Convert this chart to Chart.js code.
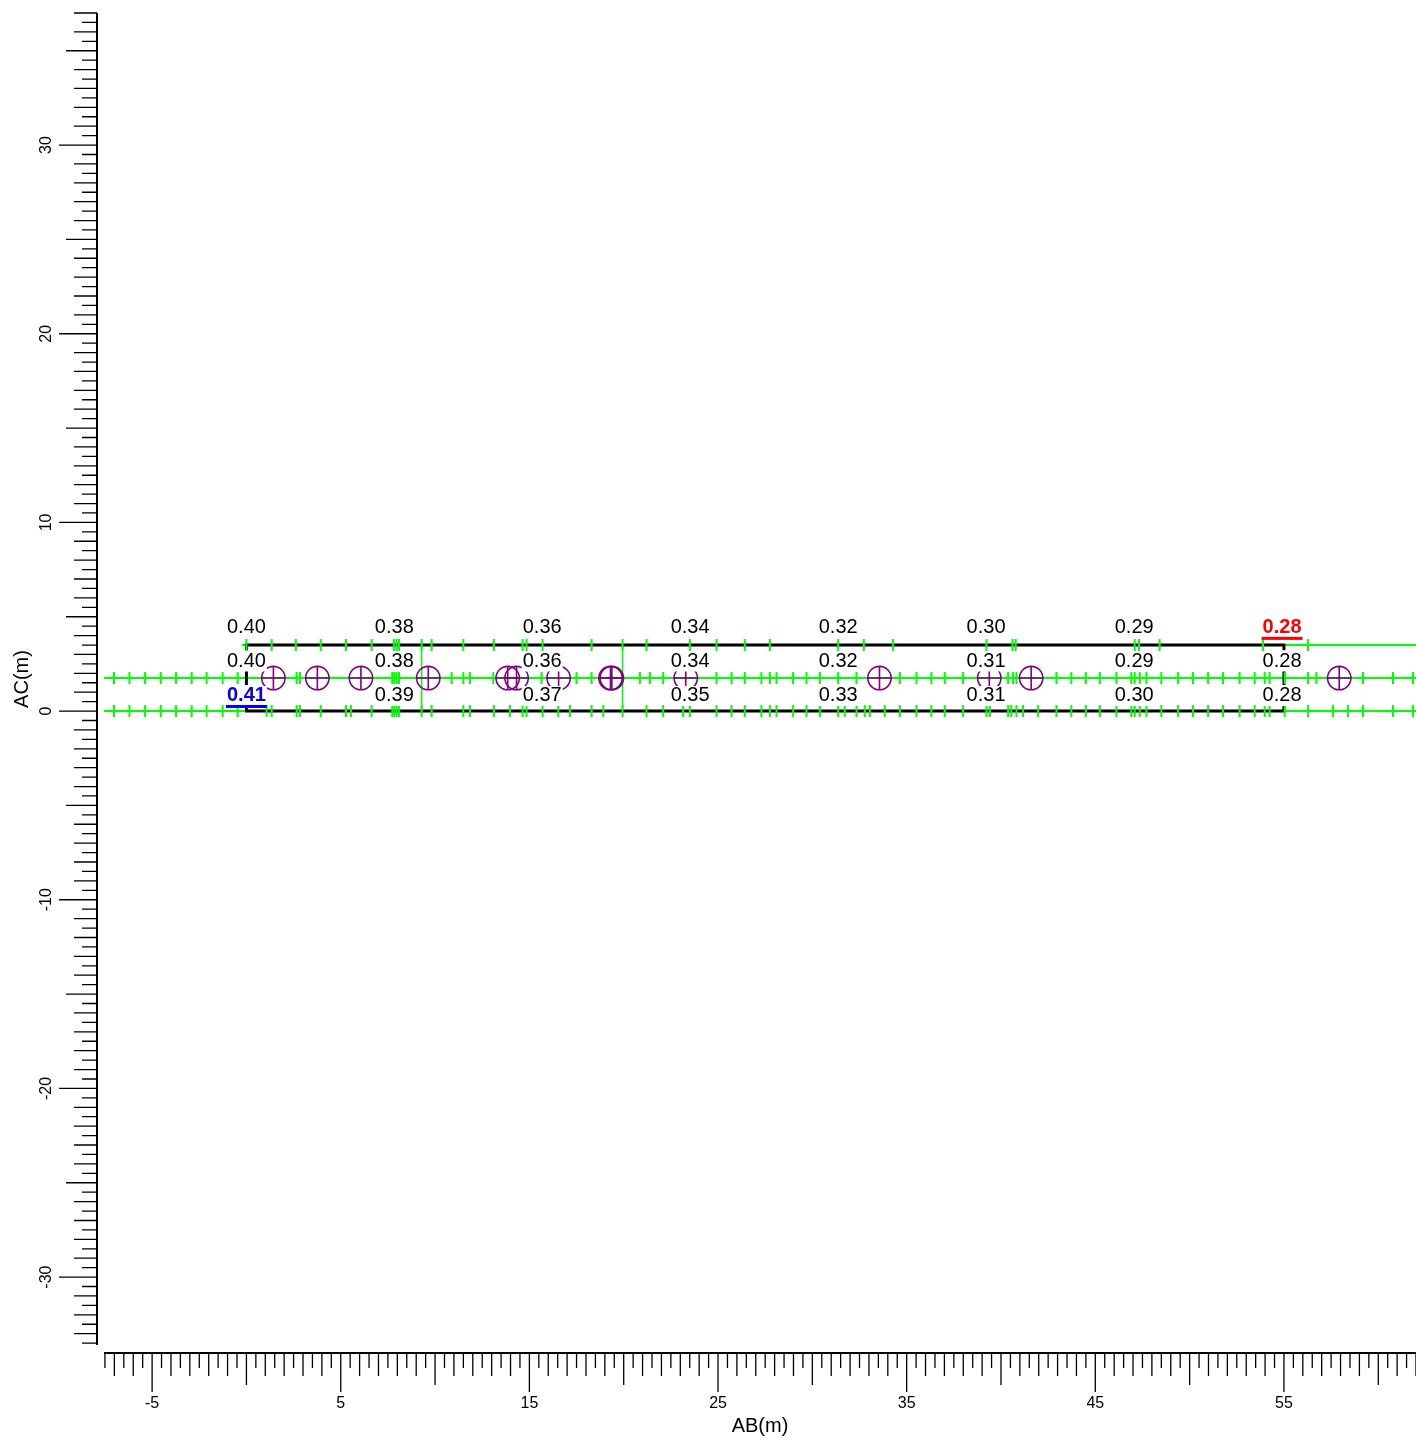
<!DOCTYPE html>
<html>
<head>
<meta charset="utf-8">
<script src="https://cdn.jsdelivr.net/npm/chart.js@4"></script>
<style>
  html, body { margin: 0; padding: 0; background: #fff; overflow: hidden; }
  canvas { display: block; }
</style>
</head>
<body>
<canvas id="plot" width="1416" height="1443" style="width:1416px;height:1443px"></canvas>
<script>
// rows (AC, m)
const rowY = [3.5, 1.75, 0];
const greenStart = [-0.25, -7.55, -7.55];
const greenEnd = [62, 62, 62];
const blackStart = 0;
const blackEnd = 55;
const verticalX = [9.29, 19.94];

// station ticks along each row (AB, m)
const topTicksX = [0, 1.34, 2.62, 3.94, 5.28, 6.64, 7.82, 7.96, 8.09, 9.29, 9.82, 11.5, 13.12, 14.64, 14.85,
  15.7, 18.3, 19.94, 21.21, 23.51, 24.92, 26.42, 27.75, 31.37, 32.73, 34.28, 39.23, 40.61, 40.78,
  47.09, 47.32, 48.41, 53.89, 56.28];
const midTicksX = [-7.02, -6.2, -5.37, -4.54, -3.73, -2.9, -2.11, -1.26, -0.46, 2.66, 2.84, 7.73, 7.84, 7.96,
  8.09, 10.88, 11.5, 11.85, 13.09, 15.65, 17.5, 18.3, 20.86, 21.39, 22.09, 24.92, 25.72, 26.42, 27.3,
  27.75, 28.1, 28.98, 29.69, 30.4, 31.37, 32.34, 34.64, 35.52, 36.31, 37.02, 37.99, 40.38, 40.64, 40.82,
  42.94, 43.73, 44.5, 45.24, 46.12, 46.91, 47.09, 47.36, 47.71, 48.5, 49.39, 50.18, 50.98, 51.77, 52.65,
  53.45, 53.98, 54.24, 55.04, 56.28, 56.72, 59.19, 60.78, 61.84];
const botTicksX = [-7.02, -6.2, -5.37, -4.54, -3.73, -2.9, -2.11, -1.26, -0.46, 1.07, 1.34, 2.66, 2.84, 3.94,
  5.28, 5.54, 6.64, 7.73, 7.84, 7.96, 8.09, 9.29, 9.82, 11.5, 11.85, 13.12, 13.97, 14.64, 14.85, 15.7,
  16.53, 17.15, 18.3, 18.92, 19.94, 21.21, 22.09, 23.15, 23.51, 24.92, 25.72, 26.42, 27.3, 27.75, 28.1,
  28.98, 29.69, 30.4, 31.37, 31.72, 32.34, 32.78, 33.05, 33.84, 34.64, 35.52, 36.31, 37.02, 37.99, 39.23,
  39.41, 40.38, 40.55, 40.82, 41.17, 41.97, 42.94, 43.73, 44.5, 45.24, 46.12, 46.91, 47.09, 47.36, 47.71,
  48.5, 49.39, 50.18, 50.98, 51.77, 52.65, 53.45, 53.98, 54.24, 55.04, 56.28, 57.6, 58.4, 59.19, 60.78, 61.84];

// probe marks on the middle row
const probeX = [1.43, 3.76, 6.07, 9.64, 13.85, 14.32, 16.55, 19.3, 19.37, 23.29, 33.56, 39.38, 41.6, 57.93];

// value labels
const labelX = [0, 7.84, 15.68, 23.52, 31.37, 39.21, 47.06, 54.9];
const labelRowY = [4.41, 2.63, 0.8];
const topLabels = ['0.40', '0.38', '0.36', '0.34', '0.32', '0.30', '0.29', '0.28'];
const midLabels = ['0.40', '0.38', '0.36', '0.34', '0.32', '0.31', '0.29', '0.28'];
const botLabels = ['0.41', '0.39', '0.37', '0.35', '0.33', '0.31', '0.30', '0.28'];

// axis tick labels
const xTickLabels = [-5, 5, 15, 25, 35, 45, 55];
const yTickLabels = [-30, -20, -10, 0, 10, 20, 30];

const GREEN = '#00ff00';
const PURPLE = '#800080';
const FONT = '"Liberation Sans", Arial, sans-serif';

const datasets = [];
// green lines
for (let r = 0; r < 3; r++) {
  datasets.push({
    data: [{x: greenStart[r], y: rowY[r]}, {x: greenEnd[r], y: rowY[r]}],
    showLine: true, borderColor: GREEN, borderWidth: 2, pointRadius: 0, order: 9
  });
}
verticalX.forEach(v => {
  datasets.push({
    data: [{x: v, y: rowY[2]}, {x: v, y: rowY[0]}],
    showLine: true, borderColor: GREEN, borderWidth: 1.5, pointRadius: 0, order: 9
  });
});
// black spans
datasets.push({
  data: [{x: blackStart, y: 3.23}, {x: blackStart, y: 3.5}, {x: blackEnd, y: 3.5}, {x: blackEnd, y: 3.23}],
  showLine: true, borderColor: '#000', borderWidth: 3, pointRadius: 0, order: 8
});
datasets.push({
  data: [{x: blackStart, y: 0.27}, {x: blackStart, y: 0}, {x: blackEnd, y: 0}, {x: blackEnd, y: 0.27}],
  showLine: true, borderColor: '#000', borderWidth: 3, pointRadius: 0, order: 8
});
datasets.push({
  data: [{x: blackStart, y: 1.75}, {x: blackEnd, y: 1.75}],
  showLine: false, pointStyle: 'line', rotation: 90, pointRadius: 7,
  pointBorderColor: '#000', pointBorderWidth: 3, order: 7
});
// station ticks
[topTicksX, midTicksX, botTicksX].forEach((arr, r) => {
  datasets.push({
    data: arr.map(v => ({x: v, y: rowY[r]})),
    showLine: false, pointStyle: 'line', rotation: 90, pointRadius: 6,
    pointBorderColor: GREEN, pointBorderWidth: 2, order: 6
  });
});
// probes: circle + cross
datasets.push({
  data: probeX.map(v => ({x: v, y: rowY[1]})),
  showLine: false, pointStyle: 'circle', pointRadius: 11.7,
  pointBackgroundColor: 'rgba(0,0,0,0)', pointBorderColor: PURPLE, pointBorderWidth: 1.6, order: 2
});
datasets.push({
  data: probeX.map(v => ({x: v, y: rowY[1]})),
  showLine: false, pointStyle: 'cross', pointRadius: 11.7,
  pointBorderColor: PURPLE, pointBorderWidth: 1.6, order: 1
});

const labelPlugin = {
  id: 'valueLabels',
  afterDatasetsDraw(chart) {
    const ctx = chart.ctx, xs = chart.scales.x, ys = chart.scales.y;
    ctx.save();
    ctx.textAlign = 'center';
    ctx.textBaseline = 'middle';
    [topLabels, midLabels, botLabels].forEach((labels, r) => {
      labels.forEach((t, i) => {
        const px = xs.getPixelForValue(labelX[i]);
        const py = ys.getPixelForValue(labelRowY[r]);
        let color = '#000', bold = false;
        if (r === 0 && i === labels.length - 1) { color = '#ff0000'; bold = true; }
        if (r === 2 && i === 0) { color = '#0000ff'; bold = true; }
        ctx.font = (bold ? 'bold ' : '') + '20px ' + FONT;
        const w = ctx.measureText(t).width;
        ctx.fillStyle = '#fff';
        ctx.fillRect(px - w / 2 - 1, py - 10, w + 2, 20);
        ctx.fillStyle = color;
        ctx.fillText(t, px, py);
        if (bold) {
          ctx.fillRect(px - w / 2 - 1, py + 9, w + 2, 3);
        }
      });
    });
    ctx.restore();
  }
};

const axisPlugin = {
  id: 'axes',
  afterDraw(chart) {
    const ctx = chart.ctx, xs = chart.scales.x, ys = chart.scales.y, a = chart.chartArea;
    const axisY = a.bottom + 8;
    const axisX = a.left - 7;
    ctx.save();
    ctx.strokeStyle = '#000';
    ctx.fillStyle = '#000';
    ctx.lineWidth = 2;
    ctx.beginPath();
    ctx.moveTo(a.left, axisY); ctx.lineTo(a.right, axisY);
    ctx.moveTo(axisX, a.top); ctx.lineTo(axisX, a.bottom);
    ctx.stroke();
    ctx.lineWidth = 1.3;
    ctx.beginPath();
    for (let k = Math.ceil(xs.min * 2); k <= Math.floor(xs.max * 2); k++) {
      const v = k / 2;
      const px = xs.getPixelForValue(v);
      let len = 15;
      if (k % 2 === 0) len = 23;
      if (k % 10 === 0) len = 32;
      if (xTickLabels.includes(v)) len = 39;
      ctx.moveTo(px, axisY); ctx.lineTo(px, axisY + len);
    }
    for (let k = Math.ceil(ys.min * 2); k <= Math.floor(ys.max * 2); k++) {
      const v = k / 2;
      const py = ys.getPixelForValue(v);
      let len = 15;
      if (k % 2 === 0) len = 23;
      if (k % 10 === 0) len = 31;
      if (yTickLabels.includes(v)) len = 38;
      ctx.moveTo(axisX, py); ctx.lineTo(axisX - len, py);
    }
    ctx.stroke();

    ctx.font = '16px ' + FONT;
    ctx.textAlign = 'center';
    ctx.textBaseline = 'middle';
    xTickLabels.forEach(v => {
      ctx.fillText(String(v), xs.getPixelForValue(v), axisY + 51);
    });
    yTickLabels.forEach(v => {
      ctx.save();
      ctx.translate(axisX - 50, ys.getPixelForValue(v));
      ctx.rotate(-Math.PI / 2);
      ctx.fillText(String(v), 0, 0);
      ctx.restore();
    });
    ctx.font = '20px ' + FONT;
    ctx.fillText('AB(m)', (a.left + a.right) / 2, axisY + 73);
    ctx.save();
    ctx.translate(22, (a.top + a.bottom) / 2);
    ctx.rotate(-Math.PI / 2);
    ctx.fillText('AC(m)', 0, 0);
    ctx.restore();
    ctx.restore();
  }
};

new Chart(document.getElementById('plot'), {
  type: 'scatter',
  data: { datasets: datasets },
  options: {
    responsive: false,
    animation: false,
    devicePixelRatio: 1,
    events: [],
    layout: { autoPadding: false, padding: { left: 104, right: 0, top: 13, bottom: 98 } },
    scales: {
      x: { type: 'linear', min: -7.55, max: 62, display: false },
      y: { type: 'linear', min: -33.6, max: 37, display: false }
    },
    plugins: { legend: { display: false }, tooltip: { enabled: false } }
  },
  plugins: [labelPlugin, axisPlugin]
});
</script>
</body>
</html>
